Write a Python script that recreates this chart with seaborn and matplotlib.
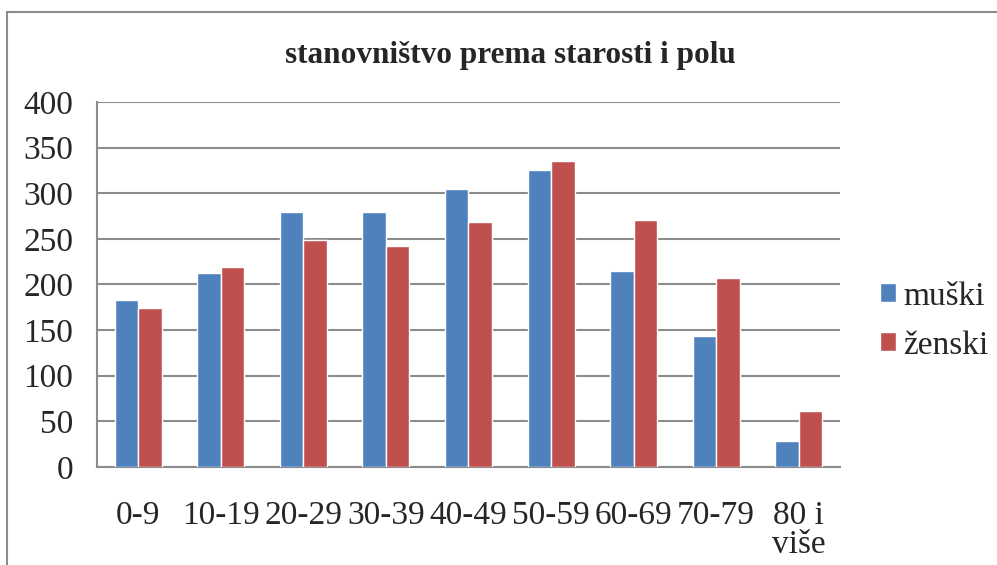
import pandas as pd
import seaborn as sns
from matplotlib import pyplot as plt
from matplotlib.patches import Rectangle

categories = ["0-9", "10-19", "20-29", "30-39", "40-49", "50-59", "60-69", "70-79", "80 i\nviše"]
muski = [183, 213, 279, 279, 305, 326, 215, 144, 28]
zenski = [174, 219, 249, 242, 269, 335, 271, 207, 61]
series = ["muški", "ženski"]
colors = ["#4F81BD", "#C0504D"]

df = pd.DataFrame({
    "grupa": categories * 2,
    "broj": muski + zenski,
    "pol": [series[0]] * len(categories) + [series[1]] * len(categories),
})

sns.set_style("white")
plt.rcParams["font.family"] = ["Liberation Serif", "DejaVu Serif"]

fig, ax = plt.subplots(figsize=(9.97, 5.65), dpi=100)
fig.subplots_adjust(left=0.0973, right=0.8425, top=0.8195, bottom=0.1735)

sns.barplot(data=df, x="grupa", y="broj", hue="pol", palette=colors,
            width=0.57, gap=0, saturation=1, ax=ax, zorder=3)

ax.set_ylim(0, 400)
ax.set_yticks(range(0, 401, 50))
ax.set_xlim(-0.5, len(categories) - 0.5)
ax.yaxis.grid(True, color="#8c8c8c", linewidth=1.5)
ax.set_axisbelow(True)
for side in ["top", "right"]:
    ax.spines[side].set_visible(False)
for side in ["left", "bottom"]:
    ax.spines[side].set_color("#8c8c8c")
    ax.spines[side].set_linewidth(1.5)
ax.tick_params(axis="y", labelsize=24, length=0, pad=17)
ax.tick_params(axis="x", labelsize=24, length=0, pad=24)
for lbl in ax.get_xticklabels():
    lbl.set_linespacing(0.95)
ax.set_xlabel("")
ax.set_ylabel("")

fig.text(0.512, 0.901, "stanovništvo prema starosti i polu", fontsize=22.5,
         fontweight="bold", ha="center", va="center")

ax.legend(loc="center left", bbox_to_anchor=(1.013, 0.4), frameon=False, fontsize=24,
          handlelength=0.5, handleheight=0.5, handletextpad=0.2, labelspacing=0.55)

fig.patches.append(Rectangle((0.007, -0.02), 1.1, 0.999, transform=fig.transFigure,
                             fill=False, edgecolor="#8c8c8c", linewidth=1.5))

fig.savefig("out.png", dpi=100)
